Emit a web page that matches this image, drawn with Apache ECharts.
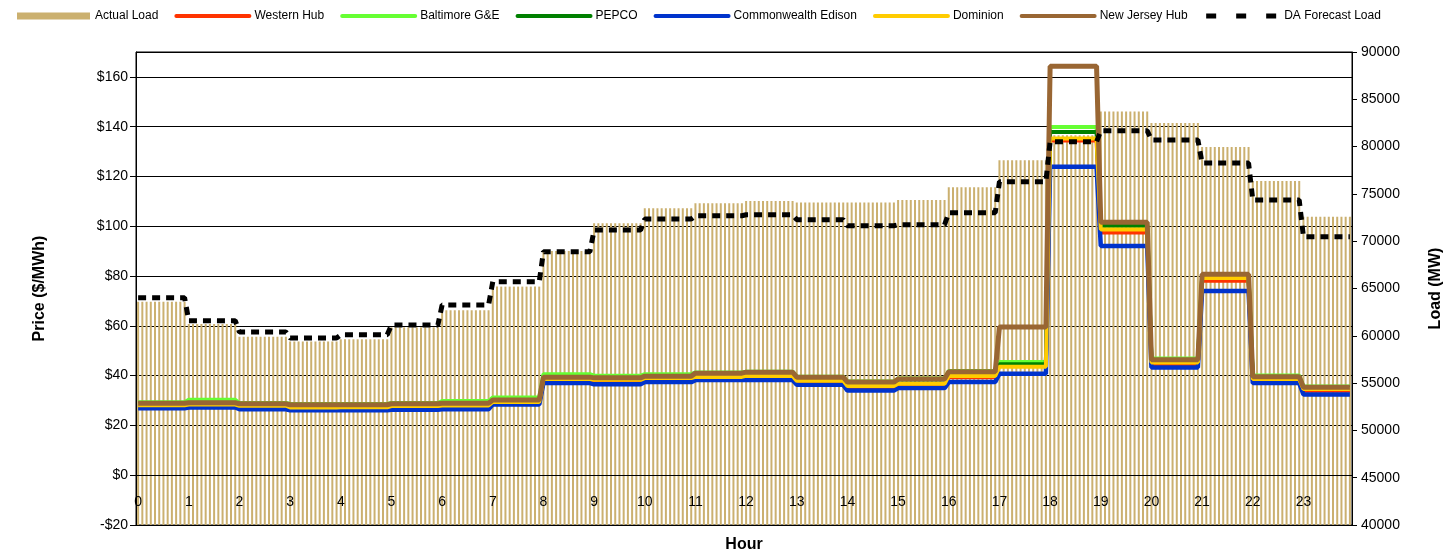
<!DOCTYPE html>
<html>
<head>
<meta charset="utf-8">
<script src="https://cdn.jsdelivr.net/npm/echarts@6/dist/echarts.min.js"></script>
<style>
  html, body { margin: 0; padding: 0; background: #fff; }
  #chart { width: 1453px; height: 551px; }
</style>
</head>
<body>
<div id="chart"></div>
<script>
// hour tick labels, each hour split into 5-minute intervals
var hourLabels = ['0','1','2','3','4','5','6','7','8','9','10','11','12','13','14','15','16','17','18','19','20','21','22','23'];
var stepsPerHour = 12;

// hourly values (MW)
var actualLoad = [63600, 61250, 59900, 59400, 59630, 60900, 62700, 65200, 68960, 71900, 73480, 74000,
	74250, 74100, 74100, 74350, 75700, 78550, 81200, 83700, 82500, 79950, 76360, 72590];
var daForecastLoad = [64030, 61600, 60400, 59770, 60100, 61140, 63250, 65720, 68890, 71180, 72340, 72690,
	72800, 72270, 71640, 71740, 73010, 76290, 80515, 81680, 80700, 78260, 74350, 70470];

// hourly prices ($/MWh)
var westernHub = [27.8, 28.2, 27.6, 27.0, 27.0, 27.4, 27.6, 28.8, 38.3, 37.5, 38.2, 39.0,
	39.4, 37.5, 35.4, 36.3, 39.4, 45.0, 134.5, 97.5, 44.6, 78.1, 37.9, 33.9];
var baltimore = [29.3, 30.3, 29.0, 28.6, 28.6, 29.0, 29.8, 31.2, 40.6, 40.0, 40.6, 41.3,
	41.6, 39.6, 37.6, 38.8, 41.9, 45.5, 139.9, 100.4, 46.9, 79.8, 40.1, 35.6];
var pepco = [28.8, 29.0, 28.6, 28.2, 28.2, 28.6, 28.8, 30.0, 39.3, 39.0, 39.6, 40.8,
	41.2, 39.2, 37.2, 38.4, 41.4, 44.6, 137.9, 100.2, 46.2, 79.5, 39.5, 35.1];
var comEd = [26.9, 27.2, 26.5, 26.1, 26.1, 26.3, 26.5, 28.4, 37.0, 36.5, 37.4, 38.2,
	38.2, 36.3, 34.0, 35.0, 37.4, 40.8, 123.9, 92.1, 43.3, 74.0, 37.0, 32.4];
var dominion = [28.1, 28.4, 27.9, 27.2, 27.3, 27.8, 28.0, 29.4, 38.6, 38.3, 39.0, 39.5,
	39.9, 37.9, 35.8, 36.7, 39.9, 43.6, 135.3, 98.7, 45.3, 79.2, 38.6, 34.6];
var newJersey = [28.9, 29.1, 28.7, 28.3, 28.3, 28.7, 28.9, 30.2, 39.4, 39.1, 39.8, 41.0,
	41.4, 39.4, 37.4, 38.6, 41.6, 59.5, 164.3, 101.6, 46.4, 80.7, 39.6, 35.3];

// each hourly value holds for all its 5-minute intervals
function perInterval(arr) {
	var out = [];
	arr.forEach(function (v) {
		for (var i = 0; i < stepsPerHour; i++) out.push(v);
	});
	return out;
}

var categories = [];
hourLabels.forEach(function (h) {
	for (var i = 0; i < stepsPerHour; i++) categories.push(h + ':' + (i * 5));
});

var font = "'Liberation Sans', Arial, sans-serif";

function priceLine(name, data, color, width) {
	return {
		name: name,
		type: 'line',
		yAxisIndex: 0,
		data: perInterval(data),
		symbol: 'none',
		lineStyle: { color: color, width: width },
		itemStyle: { color: color },
	};
}

// legend entry for a line: thick stroke, no marker dot
function lineEntry(name) {
	return { name: name, itemStyle: { opacity: 0 }, lineStyle: { width: 4, cap: 'round' } };
}

var myChart = echarts.init(document.getElementById('chart'));

var option = {
	animation: false,
	backgroundColor: '#fff',
	textStyle: { fontFamily: font, color: '#000' },
	legend: {
		left: 12,
		top: 5,
		itemWidth: 73,
		itemHeight: 7,
		itemGap: 16,
		textStyle: { fontSize: 12, fontFamily: font, color: '#000' },
		data: [
			{ name: 'Actual Load', icon: 'rect' },
			lineEntry('Western Hub'),
			lineEntry('Baltimore G&E'),
			lineEntry('PEPCO'),
			lineEntry('Commonwealth Edison'),
			lineEntry('Dominion'),
			lineEntry('New Jersey Hub'),
			{ name: 'DA Forecast Load', itemStyle: { opacity: 0 }, lineStyle: { type: [10, 20], width: 5 } },
		],
	},
	grid: {
		left: 136,
		right: 101,
		top: 52,
		bottom: 26,
		outerBoundsMode: 'none',
		containLabel: false,
		show: true,
		borderColor: '#000',
		borderWidth: 1,
		backgroundColor: 'transparent',
	},
	xAxis: {
		type: 'category',
		data: categories,
		boundaryGap: true,
		z: 5,
		// the hour axis sits on the $0 line
		offset: -50,
		name: 'Hour',
		nameLocation: 'middle',
		nameGap: 62,
		nameTextStyle: { fontSize: 16, fontWeight: 'bold', fontFamily: font, color: '#000' },
		axisLine: { onZero: false, lineStyle: { color: '#000', width: 1 } },
		axisTick: { interval: 0, length: 4, lineStyle: { color: '#000' } },
		axisLabel: {
			interval: stepsPerHour - 1,
			margin: 20,
			fontSize: 14,
			color: '#000',
			fontFamily: font,
			formatter: function (v) { return v.split(':')[0]; },
		},
		splitLine: { show: false },
	},
	yAxis: [
		{
			type: 'value',
			min: -20,
			max: 170,
			interval: 20,
			name: 'Price ($/MWh)',
			nameLocation: 'middle',
			nameRotate: 90,
			nameGap: 88,
			nameTextStyle: { fontSize: 16, fontWeight: 'bold', fontFamily: font, color: '#000' },
			axisLine: { show: true, lineStyle: { color: '#000' } },
			axisTick: { show: true, length: 6, lineStyle: { color: '#000' } },
			axisLabel: {
				showMaxLabel: false,
				margin: 8,
				fontSize: 14,
				color: '#000',
				fontFamily: font,
				formatter: function (v) { return v < 0 ? '-$' + (-v) : '$' + v; },
			},
			splitLine: { show: true, lineStyle: { color: '#000', width: 1 } },
		},
		{
			type: 'value',
			min: 40000,
			max: 90000,
			interval: 5000,
			position: 'right',
			name: 'Load (MW)',
			nameLocation: 'middle',
			nameRotate: 90,
			nameGap: 76,
			nameTextStyle: { fontSize: 16, fontWeight: 'bold', fontFamily: font, color: '#000' },
			axisLine: { show: true, lineStyle: { color: '#000' } },
			axisTick: { show: true, length: 5, lineStyle: { color: '#000' } },
			axisLabel: {
				margin: 9,
				fontSize: 14,
				color: '#000',
				fontFamily: font,
				formatter: function (v) { return String(v); },
			},
			splitLine: { show: false },
		},
	],
	series: [
		{
			name: 'Actual Load',
			type: 'bar',
			yAxisIndex: 1,
			data: perInterval(actualLoad),
			barWidth: 2,
			itemStyle: { color: '#CBB06F' },
		},
		priceLine('Western Hub', westernHub, '#FF3300', 4),
		priceLine('Baltimore G&E', baltimore, '#66FF33', 4),
		priceLine('PEPCO', pepco, '#008000', 4),
		priceLine('Commonwealth Edison', comEd, '#0033CC', 4.5),
		priceLine('Dominion', dominion, '#FFCC00', 4),
		priceLine('New Jersey Hub', newJersey, '#996633', 5),
		{
			name: 'DA Forecast Load',
			type: 'line',
			yAxisIndex: 1,
			data: perInterval(daForecastLoad),
			symbol: 'none',
			lineStyle: { color: '#000', width: 5, type: [8, 6], cap: 'butt' },
			itemStyle: { color: '#000' },
		},
	],
};

myChart.setOption(option);
</script>
</body>
</html>
